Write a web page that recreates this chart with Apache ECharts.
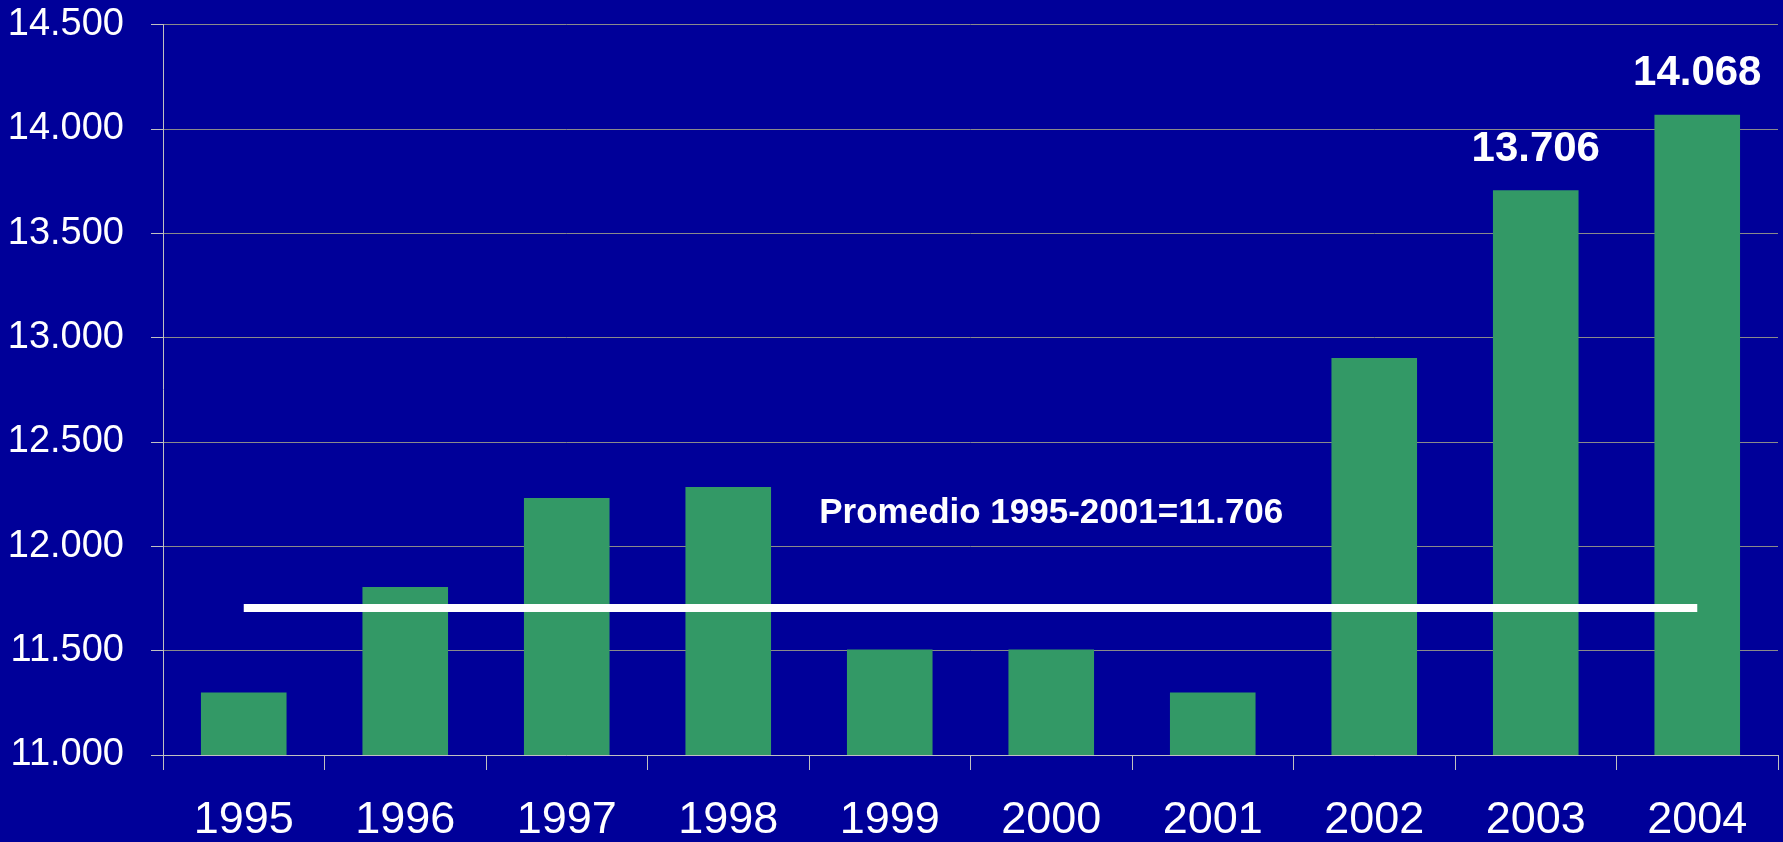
<!DOCTYPE html>
<html>
<head>
<meta charset="utf-8">
<script src="https://cdn.jsdelivr.net/npm/echarts@6/dist/echarts.min.js"></script>
<style>
  html, body { margin: 0; padding: 0; background: #000099; }
  #chart { width: 1783px; height: 842px; }
</style>
</head>
<body>
<div id="chart"></div>
<script>
const years = ['1995', '1996', '1997', '1998', '1999', '2000', '2001', '2002', '2003', '2004'];
const values = [11300, 11805, 12231, 12284, 11505, 11505, 11300, 12902, 13706, 14068];
const labeledYears = ['2003', '2004'];
const average = 11706;
const averageFrom = '1995';
const averageTo = '2004';
const averageText = 'Promedio 1995-2001=11.706';
const averageTextYear = '2000';
const averageTextValue = 12160;
const yMin = 11000, yMax = 14500, yStep = 500;

function fmt(v) {
  return String(Math.round(v)).replace(/\B(?=(\d{3})+(?!\d))/g, '.');
}

const FONT = '"Liberation Sans", Arial, sans-serif';
const chart = echarts.init(document.getElementById('chart'), null, { renderer: 'canvas' });

chart.setOption({
  animation: false,
  backgroundColor: '#000099',
  textStyle: { fontFamily: FONT },
  grid: { left: 163, right: 5, top: 24.5, bottom: 87, containLabel: false, outerBoundsMode: 'none' },
  xAxis: {
    type: 'category',
    data: years,
    boundaryGap: true,
    axisLine: { show: true, lineStyle: { color: '#c0c0c0', width: 1 } },
    axisTick: { show: true, length: 15, alignWithLabel: false, lineStyle: { color: '#c0c0c0', width: 1 } },
    axisLabel: { color: '#ffffff', fontSize: 45, fontFamily: FONT, margin: 43 },
    splitLine: { show: false }
  },
  yAxis: {
    type: 'value',
    min: yMin, max: yMax, interval: yStep,
    axisLine: { show: true, lineStyle: { color: '#c0c0c0', width: 1 } },
    axisTick: { show: true, length: 12, lineStyle: { color: '#c0c0c0', width: 1 } },
    axisLabel: { color: '#ffffff', fontSize: 38, fontFamily: FONT, margin: 39, formatter: fmt },
    splitLine: { show: true, lineStyle: { color: '#8a8a8a', width: 1 } }
  },
  series: [{
    type: 'bar',
    barWidth: '53%',
    itemStyle: { color: '#339966' },
    data: values.map((v, i) => ({
      value: v,
      label: {
        show: labeledYears.includes(years[i]),
        position: 'top',
        distance: 20,
        color: '#ffffff',
        fontSize: 42,
        fontWeight: 'bold',
        fontFamily: FONT,
        formatter: p => fmt(p.value)
      }
    })),
    markLine: {
      silent: true,
      symbol: 'none',
      label: { show: false },
      lineStyle: { color: '#ffffff', width: 8, type: 'solid' },
      emphasis: { disabled: true },
      data: [[
        { coord: [averageFrom, average] },
        { coord: [averageTo, average] }
      ]]
    },
    markPoint: {
      silent: true,
      symbol: 'circle',
      symbolSize: 0,
      data: [{
        coord: [averageTextYear, averageTextValue],
        label: {
          show: true,
          position: 'inside',
          color: '#ffffff',
          fontSize: 35,
          fontWeight: 'bold',
          fontFamily: FONT,
          formatter: averageText
        }
      }]
    }
  }]
});
</script>
</body>
</html>
